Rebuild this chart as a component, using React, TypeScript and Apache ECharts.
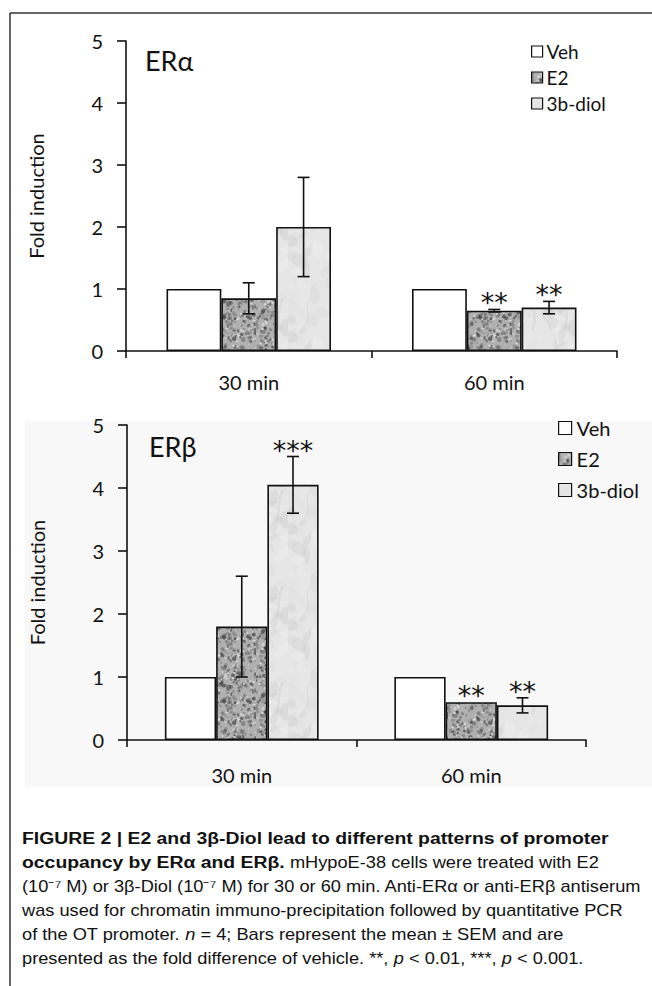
import React, { useEffect, useRef } from "react";
import * as echarts from "echarts";

const categories = ["30 min", "60 min"];
const seriesNames = ["Veh", "E2", "3b-diol"];

// ERα panel
const alphaVeh = [1, 1];
const alphaE2 = [0.85, 0.65];
const alphaDiol = [2.0, 0.7];
const alphaVehErr = [0, 0];
const alphaE2Err = [0.25, 0.02];
const alphaDiolErr = [0.8, 0.1];
const alphaStars = [
  ["", ""],
  ["", "**"],
  ["", "**"],
];

// ERβ panel
const betaVeh = [1, 1];
const betaE2 = [1.8, 0.6];
const betaDiol = [4.05, 0.55];
const betaVehErr = [0, 0];
const betaE2Err = [0.8, 0];
const betaDiolErr = [0.45, 0.12];
const betaStars = [
  ["", ""],
  ["", "**"],
  ["***", "**"],
];

const yTicks = [0, 1, 2, 3, 4, 5];

const captionLines = [
  [["b", "FIGURE 2 | E2 and 3β-Diol lead to different patterns of promoter"]],
  [["b", "occupancy by ERα and ERβ."], ["r", " mHypoE-38 cells were treated with E2"]],
  [["r", "(10⁻⁷ M) or 3β-Diol (10⁻⁷ M) for 30 or 60 min. Anti-ERα or anti-ERβ antiserum"]],
  [["r", "was used for chromatin immuno-precipitation followed by quantitative PCR"]],
  [["r", "of the OT promoter. "], ["i", "n"], ["r", " = 4; Bars represent the mean ± SEM and are"]],
  [["r", "presented as the fold difference of vehicle. **, "], ["i", "p"], ["r", " < 0.01, ***, "], ["i", "p"], ["r", " < 0.001."]],
];

const FONT = "Lato, 'Open Sans', sans-serif";
const CAP_FONT = "'Liberation Sans', Arial, sans-serif";

function seeded(seed: number) {
  let s = seed >>> 0;
  return () => {
    s = (s + 0x6d2b79f5) >>> 0;
    let t = s;
    t = Math.imul(t ^ (t >>> 15), t | 1);
    t ^= t + Math.imul(t ^ (t >>> 7), t | 61);
    return ((t ^ (t >>> 14)) >>> 0) / 4294967296;
  };
}

function makeSpeckle(): string {
  const c = document.createElement("canvas");
  c.width = 64;
  c.height = 64;
  const ctx = c.getContext("2d")!;
  ctx.fillStyle = "#b0b0b0";
  ctx.fillRect(0, 0, 64, 64);
  const rnd = seeded(7);
  for (let i = 0; i < 320; i++) {
    const x = rnd() * 64;
    const y = rnd() * 64;
    const r = 0.6 + rnd() * 1.5;
    const g = Math.floor(60 + rnd() * 90);
    ctx.fillStyle = `rgba(${g},${g},${g},0.7)`;
    ctx.beginPath();
    ctx.arc(x, y, r, 0, Math.PI * 2);
    ctx.fill();
  }
  for (let i = 0; i < 90; i++) {
    const x = rnd() * 64;
    const y = rnd() * 64;
    ctx.fillStyle = "rgba(220,220,220,0.8)";
    ctx.beginPath();
    ctx.arc(x, y, 0.6 + rnd(), 0, Math.PI * 2);
    ctx.fill();
  }
  return c.toDataURL();
}

function makeMarble(): string {
  const c = document.createElement("canvas");
  c.width = 96;
  c.height = 96;
  const ctx = c.getContext("2d")!;
  ctx.fillStyle = "#e6e6e6";
  ctx.fillRect(0, 0, 96, 96);
  const rnd = seeded(23);
  for (let i = 0; i < 70; i++) {
    const x = rnd() * 96;
    const y = rnd() * 96;
    const g = Math.floor(195 + rnd() * 55);
    ctx.fillStyle = `rgba(${g},${g},${g},0.3)`;
    ctx.beginPath();
    ctx.ellipse(x, y, 3 + rnd() * 8, 2 + rnd() * 5, rnd() * 3, 0, Math.PI * 2);
    ctx.fill();
  }
  for (let i = 0; i < 10; i++) {
    const x = rnd() * 96;
    const y = rnd() * 96;
    ctx.strokeStyle = "rgba(185,185,185,0.25)";
    ctx.lineWidth = 0.8 + rnd();
    ctx.beginPath();
    ctx.moveTo(x, y);
    ctx.bezierCurveTo(x + rnd() * 14 - 7, y + rnd() * 10, x + rnd() * 14 - 7, y + rnd() * 20, x + rnd() * 16 - 8, y + 14 + rnd() * 16);
    ctx.stroke();
  }
  return c.toDataURL();
}

const GAP = 0.33;

export default function App() {
  const ref = useRef<HTMLDivElement>(null);
  useEffect(() => {
    if (!ref.current) return;
    const chart = echarts.init(ref.current, null, { renderer: "svg" });
    const speckle = makeSpeckle();
    const marble = makeMarble();
    const fills: any[] = [
      "#ffffff",
      { image: speckle, imageWidth: 64, imageHeight: 64, repeat: "repeat" },
      { image: marble, imageWidth: 96, imageHeight: 96, repeat: "repeat" },
    ];

    const panels = [
      { vals: [alphaVeh, alphaE2, alphaDiol], errs: [alphaVehErr, alphaE2Err, alphaDiolErr], stars: alphaStars },
      { vals: [betaVeh, betaE2, betaDiol], errs: [betaVehErr, betaE2Err, betaDiolErr], stars: betaStars },
    ];

    const series: any[] = [];
    panels.forEach((p, pi) => {
      p.vals.forEach((v, si) => {
        series.push({
          type: "bar",
          name: seriesNames[si],
          xAxisIndex: pi,
          yAxisIndex: pi,
          data: v,
          barGap: "0%",
          barCategoryGap: "33%",
          itemStyle: { color: fills[si], borderColor: "#111", borderWidth: 1.6 },
          emphasis: { disabled: true },
        });
      });
      const errData: any[] = [];
      const starText: string[] = [];
      p.vals.forEach((v, si) => {
        v.forEach((val, ci) => {
          errData.push([ci, val - p.errs[si][ci], val + p.errs[si][ci], si, val]);
          starText.push(p.stars[si][ci]);
        });
      });
      series.push({
        type: "custom",
        xAxisIndex: pi,
        yAxisIndex: pi,
        data: errData,
        z: 5,
        renderItem: (params: any, api: any) => {
          const ci = api.value(0);
          const lo = api.value(1);
          const hi = api.value(2);
          const si = api.value(3);
          const val = api.value(4);
          const band = api.size([1, 0])[0];
          const barW = (band * (1 - GAP)) / 3;
          const cx = api.coord([ci, 0])[0] + (si - 1) * barW;
          const yLo = api.coord([ci, lo])[1];
          const yHi = api.coord([ci, hi])[1];
          const yVal = api.coord([ci, val])[1];
          const children: any[] = [];
          const ls = { stroke: "#111", lineWidth: 1.6 };
          if (hi - lo > 0) {
            const cap = 6;
            children.push({ type: "line", shape: { x1: cx, y1: yLo, x2: cx, y2: yHi }, style: ls });
            children.push({ type: "line", shape: { x1: cx - cap, y1: yLo, x2: cx + cap, y2: yLo }, style: ls });
            children.push({ type: "line", shape: { x1: cx - cap, y1: yHi, x2: cx + cap, y2: yHi }, style: ls });
          }
          const st = starText[params.dataIndex];
          if (st) {
            const top = Math.min(yHi, yVal);
            children.push({
              type: "text",
              x: cx,
              y: top + 7,
              style: {
                text: st,
                fill: "#111",
                fontSize: 27,
                fontFamily: "'DejaVu Sans', sans-serif",
                align: "center",
                verticalAlign: "bottom",
              },
            });
          }
          return { type: "group", children };
        },
      });
    });

    const axisLineStyle = { color: "#111", width: 1.6 };
    const yAxisBase = (gridIndex: number) => ({
      type: "value",
      gridIndex,
      min: 0,
      max: 5,
      interval: 1,
      name: "Fold induction",
      nameLocation: "middle",
      nameGap: 80,
      nameTextStyle: { fontSize: 20, fontFamily: FONT, color: "#111" },
      axisLine: { show: true, lineStyle: axisLineStyle },
      axisTick: { show: true, length: 9, lineStyle: axisLineStyle },
      axisLabel: {
        fontSize: 20,
        fontFamily: FONT,
        color: "#111",
        margin: 23,
        formatter: (v: number) => (yTicks.includes(v) ? String(v) : ""),
      },
      splitLine: { show: false },
    });
    const xAxisBase = (gridIndex: number, margin: number) => ({
      type: "category",
      gridIndex,
      data: categories,
      axisLine: { show: true, lineStyle: axisLineStyle },
      axisTick: { show: true, length: 7, alignWithLabel: false, lineStyle: axisLineStyle },
      axisLabel: { fontSize: 20, fontFamily: FONT, color: "#111", margin },
    });

    const rich: any = {
      b: { fontFamily: CAP_FONT, fontSize: 17, fontWeight: "bold", lineHeight: 24, fill: "#111" },
      r: { fontFamily: CAP_FONT, fontSize: 16, lineHeight: 24, fill: "#111" },
      i: { fontFamily: CAP_FONT, fontSize: 16, fontStyle: "italic", lineHeight: 24, fill: "#111" },
    };
    const captionText = captionLines
      .map((line) => line.map(([k, t]) => `{${k}|${t}}`).join(""))
      .join("\n");

    chart.setOption({
      animation: false,
      backgroundColor: "#ffffff",
      grid: [
        { left: 126, top: 41, width: 491, height: 310 },
        { left: 127, top: 425, width: 459, height: 315 },
      ],
      xAxis: [xAxisBase(0, 21), xAxisBase(1, 25)],
      yAxis: [yAxisBase(0), yAxisBase(1)],
      legend: [
        {
          data: seriesNames,
          orient: "vertical",
          left: 531,
          top: 42,
          padding: 0,
          icon: "rect",
          itemWidth: 11,
          itemHeight: 11,
          itemGap: 7,
          selectedMode: false,
          textStyle: { fontSize: 19, fontFamily: FONT, color: "#111", padding: [0, 0, 0, -1] },
          itemStyle: { borderColor: "#111", borderWidth: 1.2 },
        },
        {
          data: seriesNames,
          orient: "vertical",
          left: 558,
          top: 418,
          padding: 0,
          icon: "rect",
          itemWidth: 13,
          itemHeight: 13,
          itemGap: 11,
          selectedMode: false,
          textStyle: { fontSize: 20, fontFamily: FONT, color: "#111" },
          itemStyle: { borderColor: "#111", borderWidth: 1.2 },
        },
      ],
      graphic: [
        { type: "rect", z: -10, shape: { x: 25, y: 421, width: 627, height: 366 }, style: { fill: "#f8f8f8" } },
        { type: "line", shape: { x1: 10, y1: 13, x2: 652, y2: 13 }, style: { stroke: "#333", lineWidth: 1.5 } },
        { type: "line", shape: { x1: 10, y1: 13, x2: 10, y2: 986 }, style: { stroke: "#333", lineWidth: 1.5 } },
        {
          type: "text",
          left: 145,
          top: 47,
          style: { text: "ERα", fontSize: 27, fontFamily: FONT, fill: "#111" },
        },
        {
          type: "text",
          left: 149,
          top: 433,
          style: { text: "ERβ", fontSize: 27, fontFamily: FONT, fill: "#111" },
        },
        {
          type: "text",
          x: 22,
          y: 826,
          scaleX: 1.14,
          style: { text: captionText, rich, fontFamily: CAP_FONT, fontSize: 16, lineHeight: 24, fill: "#111" },
        },
      ],
      series,
    });
    return () => chart.dispose();
  }, []);
  return <div ref={ref} style={{ position: "absolute", left: 0, top: 0, width: 652, height: 986 }} />;
}
